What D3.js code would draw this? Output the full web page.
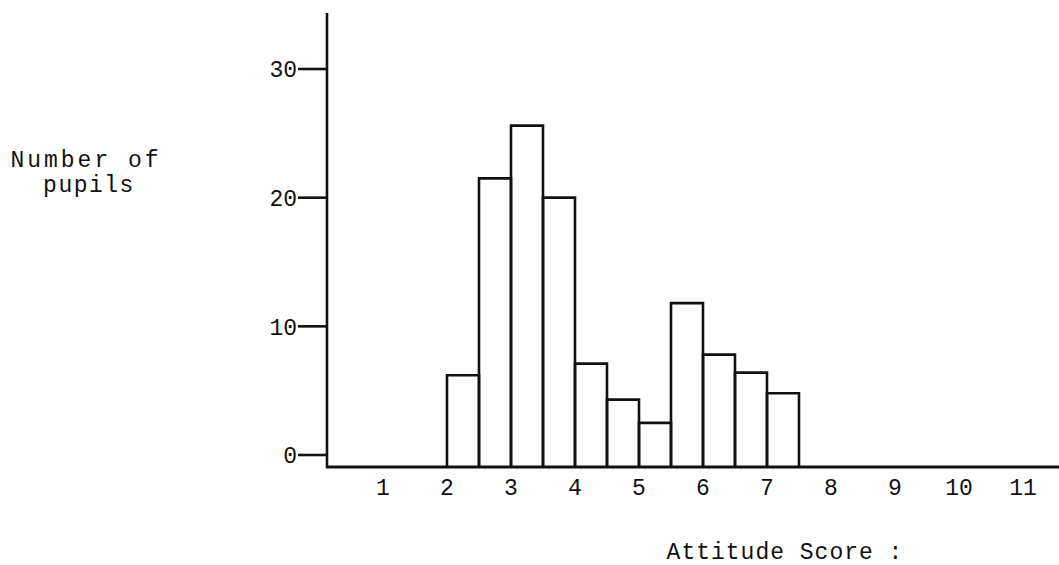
<!DOCTYPE html>
<html>
<head>
<meta charset="utf-8">
<script src="https://cdn.jsdelivr.net/npm/d3@7"></script>
<style>
    body { margin: 0; background: #fff; }
    svg text { font-family: "Liberation Mono", "DejaVu Sans Mono", monospace; fill: #111; }
</style>
</head>
<body>
<div id="chart"></div>
<script>
// half-point bins on the attitude score
var binStarts = [2, 2.5, 3, 3.5, 4, 4.5, 5, 5.5, 6, 6.5, 7];
var binWidth = 0.5;
var counts = [6.2, 21.5, 25.6, 20, 7.1, 4.3, 2.5, 11.8, 7.8, 6.4, 4.8];
var xTickValues = [1, 2, 3, 4, 5, 6, 7, 8, 9, 10, 11];
var yTickValues = [0, 10, 20, 30];

var w = 1059, h = 565;

var svg = d3.select("#chart").append("svg")
    .attr("width", w)
    .attr("height", h);

var x = d3.scaleLinear().domain([2, 7.5]).range([447, 799]);
var y = d3.scaleLinear().domain([0, 30]).range([455, 69]);

var axisX = 327
    , baseY = y(0) + 12
    , ink = "#111";

// bars
var bins = counts.map(function(v, i) {
    return {x0: binStarts[i], x1: binStarts[i] + binWidth, v: v};
});

svg.append("g")
    .attr("class", "bars")
    .selectAll("path")
    .data(bins)
    .enter()
    .append("path")
    .attr("d", function(d) {
        return "M" + x(d.x0) + "," + baseY + "V" + y(d.v) + "H" + x(d.x1) + "V" + baseY;
    })
    .attr("fill", "none")
    .attr("stroke", ink)
    .attr("stroke-width", 2.6);

// y axis
svg.append("line")
    .attr("x1", axisX).attr("x2", axisX)
    .attr("y1", 13).attr("y2", baseY + 1)
    .attr("stroke", ink).attr("stroke-width", 2.6);

var yt = svg.append("g").attr("class", "axis axis--y")
    .selectAll("g")
    .data(yTickValues)
    .enter()
    .append("g")
    .attr("transform", d => "translate(0," + y(d) + ")");

yt.append("line")
    .attr("x1", 298).attr("x2", axisX)
    .attr("stroke", ink).attr("stroke-width", 2.6);

yt.append("text")
    .attr("x", 297)
    .attr("dy", "0.36em")
    .attr("text-anchor", "end")
    .style("font-size", "23px")
    .text(d => d);

// x axis
svg.append("line")
    .attr("x1", axisX - 1).attr("x2", w)
    .attr("y1", baseY).attr("y2", baseY)
    .attr("stroke", ink).attr("stroke-width", 2.8);

svg.append("g").attr("class", "axis axis--x")
    .selectAll("text")
    .data(xTickValues)
    .enter()
    .append("text")
    .attr("x", d => x(d))
    .attr("y", 495)
    .attr("text-anchor", "middle")
    .style("font-size", "23px")
    .text(d => d);

// titles
svg.append("text")
    .attr("x", 86).attr("y", 167)
    .attr("text-anchor", "middle")
    .style("font-size", "23px")
    .style("letter-spacing", "3px")
    .text("Number of");

svg.append("text")
    .attr("x", 89).attr("y", 192)
    .attr("text-anchor", "middle")
    .style("font-size", "23px")
    .style("letter-spacing", "1.5px")
    .text("pupils");

svg.append("text")
    .attr("x", 785).attr("y", 559)
    .attr("text-anchor", "middle")
    .style("font-size", "23px")
    .style("letter-spacing", "1px")
    .text("Attitude Score :");
</script>
</body>
</html>
